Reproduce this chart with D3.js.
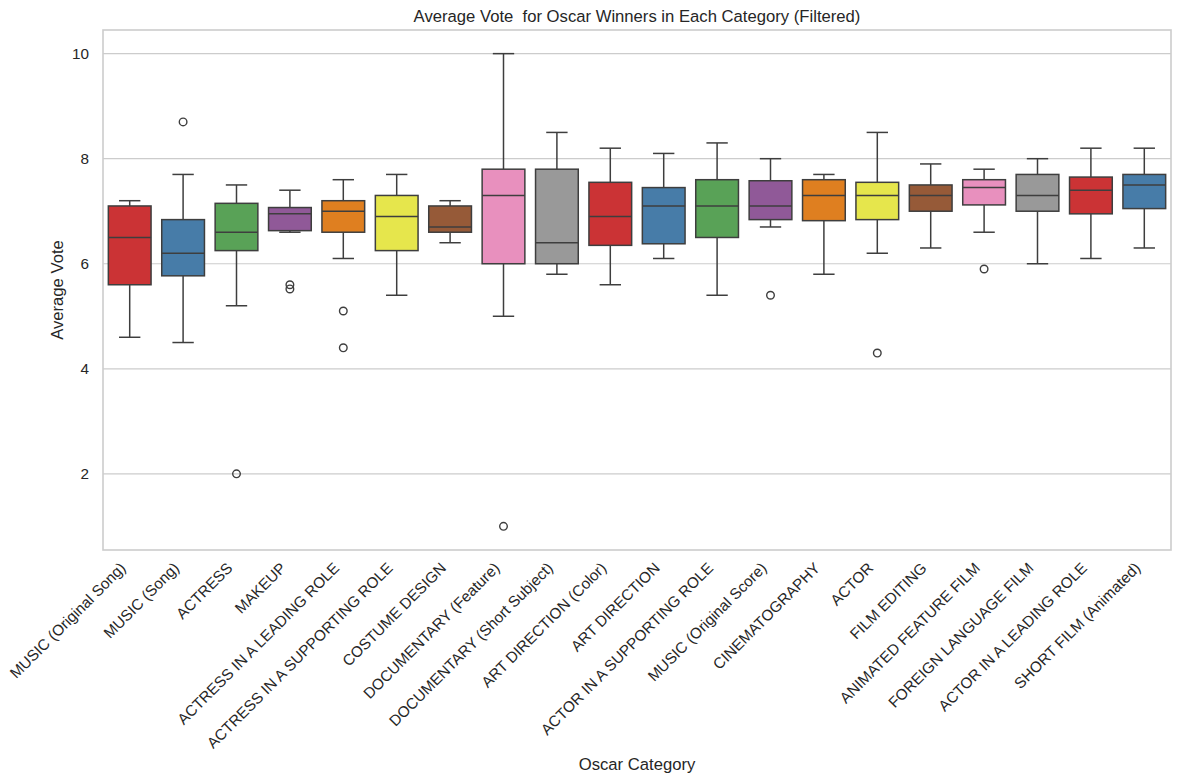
<!DOCTYPE html>
<html>
<head>
<meta charset="utf-8">
<script src="https://cdn.jsdelivr.net/npm/d3@7"></script>
<style>
  html, body { margin: 0; padding: 0; background: #fff; }
  svg { display: block; font-family: "Liberation Sans", Arial, sans-serif; }
</style>
</head>
<body>
<svg id="chart" width="1180" height="784"></svg>
<script>
const categories = [
  "MUSIC (Original Song)", "MUSIC (Song)", "ACTRESS", "MAKEUP",
  "ACTRESS IN A LEADING ROLE", "ACTRESS IN A SUPPORTING ROLE", "COSTUME DESIGN",
  "DOCUMENTARY (Feature)", "DOCUMENTARY (Short Subject)", "ART DIRECTION (Color)",
  "ART DIRECTION", "ACTOR IN A SUPPORTING ROLE", "MUSIC (Original Score)",
  "CINEMATOGRAPHY", "ACTOR", "FILM EDITING", "ANIMATED FEATURE FILM",
  "FOREIGN LANGUAGE FILM", "ACTOR IN A LEADING ROLE", "SHORT FILM (Animated)"
];
const whiskerLow  = [4.6, 4.5, 5.2, 6.6, 6.1, 5.4, 6.4, 5.0, 5.8, 5.6, 6.1, 5.4, 6.7, 5.8, 6.2, 6.3, 6.6, 6.0, 6.1, 6.3];
const q1          = [5.6, 5.77, 6.25, 6.63, 6.6, 6.25, 6.6, 6.0, 6.0, 6.35, 6.38, 6.5, 6.84, 6.82, 6.84, 7.0, 7.12, 7.0, 6.95, 7.05];
const medians     = [6.5, 6.2, 6.6, 6.95, 7.0, 6.9, 6.7, 7.3, 6.4, 6.9, 7.1, 7.1, 7.1, 7.3, 7.3, 7.3, 7.45, 7.3, 7.4, 7.5];
const q3          = [7.1, 6.84, 7.15, 7.07, 7.2, 7.3, 7.1, 7.8, 7.8, 7.55, 7.45, 7.6, 7.58, 7.6, 7.55, 7.5, 7.6, 7.7, 7.65, 7.7];
const whiskerHigh = [7.2, 7.7, 7.5, 7.4, 7.6, 7.7, 7.2, 10.0, 8.5, 8.2, 8.1, 8.3, 8.0, 7.7, 8.5, 7.9, 7.8, 8.0, 8.2, 8.2];
const outliers    = [[], [8.7], [2.0], [5.6, 5.52], [5.1, 4.4], [], [], [1.0], [], [], [], [], [5.4], [], [4.3], [], [5.9], [], [], []];
const yTicks = [2, 4, 6, 8, 10];
const paletteBase = ["#e41a1c", "#377eb8", "#4daf4a", "#984ea3", "#ff7f00", "#ffff33", "#a65628", "#f781bf", "#999999"];

(function () {
const palette = paletteBase.map(c => { const h = d3.hsl(c); h.s *= 0.75; return h.formatHex(); });

const svg = d3.select("#chart");
const pLeft = 103, pRight = 1171, pTop = 30, pBottom = 550;
const textColor = "#262626";
const lineColor = "#3e3e3e";
const tickFont = "15.28px";
const labelFont = "16.67px";

const x = d3.scaleBand().domain(categories).range([pLeft, pRight]).paddingInner(0).paddingOuter(0);
const y = d3.scaleLinear().domain([0.55, 10.45]).range([pBottom, pTop]);

// grid
svg.append("g").selectAll("line").data(yTicks).join("line")
  .attr("x1", pLeft).attr("x2", pRight)
  .attr("y1", d => y(d)).attr("y2", d => y(d))
  .attr("stroke", "#cccccc").attr("stroke-width", 1.2);

// y axis labels
const yAxis = d3.axisLeft(y).tickValues(yTicks).tickSize(0).tickPadding(14).tickFormat(d3.format("d"));
const gy = svg.append("g").attr("transform", `translate(${pLeft},0)`).call(yAxis);
gy.select(".domain").remove();
gy.selectAll("text").attr("fill", textColor).style("font-size", tickFont).style("font-family", "Liberation Sans, Arial, sans-serif");

// x axis labels
const xAxis = d3.axisBottom(x).tickSize(0).tickPadding(0);
const gx = svg.append("g").attr("transform", `translate(0,${pBottom})`).call(xAxis);
gx.select(".domain").remove();
gx.selectAll("text")
  .attr("fill", textColor)
  .style("font-size", tickFont).style("font-family", "Liberation Sans, Arial, sans-serif")
  .attr("text-anchor", "end")
  .attr("dy", null).attr("y", null)
  .attr("transform", "translate(-3,19) rotate(-45)");

// boxes
const bw = x.bandwidth() * 0.8;
const g = svg.append("g");
categories.forEach((c, i) => {
  const cx = x(c) + x.bandwidth() / 2;
  const col = palette[i % palette.length];
  const bg = g.append("g");
  bg.append("line").attr("x1", cx).attr("x2", cx).attr("y1", y(q3[i])).attr("y2", y(whiskerHigh[i]))
    .attr("stroke", lineColor).attr("stroke-width", 1.5);
  bg.append("line").attr("x1", cx).attr("x2", cx).attr("y1", y(q1[i])).attr("y2", y(whiskerLow[i]))
    .attr("stroke", lineColor).attr("stroke-width", 1.5);
  [whiskerHigh[i], whiskerLow[i]].forEach(v => {
    bg.append("line").attr("x1", cx - bw / 4).attr("x2", cx + bw / 4).attr("y1", y(v)).attr("y2", y(v))
      .attr("stroke", lineColor).attr("stroke-width", 1.5);
  });
  bg.append("rect").attr("x", cx - bw / 2).attr("width", bw)
    .attr("y", y(q3[i])).attr("height", y(q1[i]) - y(q3[i]))
    .attr("fill", col).attr("stroke", lineColor).attr("stroke-width", 1.5);
  bg.append("line").attr("x1", cx - bw / 2).attr("x2", cx + bw / 2).attr("y1", y(medians[i])).attr("y2", y(medians[i]))
    .attr("stroke", lineColor).attr("stroke-width", 1.5);
  bg.selectAll("circle").data(outliers[i]).join("circle")
    .attr("cx", cx).attr("cy", d => y(d)).attr("r", 3.8)
    .attr("fill", "none").attr("stroke", lineColor).attr("stroke-width", 1.4);
});

// frame
svg.append("rect").attr("x", pLeft).attr("y", pTop).attr("width", pRight - pLeft).attr("height", pBottom - pTop)
  .attr("fill", "none").attr("stroke", "#cccccc").attr("stroke-width", 1.6);

// title
svg.append("text").attr("x", (pLeft + pRight) / 2).attr("y", 22).attr("text-anchor", "middle")
  .attr("fill", textColor).style("font-size", labelFont).style("white-space", "pre")
  .text("Average Vote  for Oscar Winners in Each Category (Filtered)");

// axis titles
svg.append("text").attr("x", (pLeft + pRight) / 2).attr("y", 770).attr("text-anchor", "middle")
  .attr("fill", textColor).style("font-size", labelFont).text("Oscar Category");
svg.append("text").attr("transform", `translate(63,${(pTop + pBottom) / 2}) rotate(-90)`).attr("text-anchor", "middle")
  .attr("fill", textColor).style("font-size", labelFont).text("Average Vote");
})();
</script>
</body>
</html>
